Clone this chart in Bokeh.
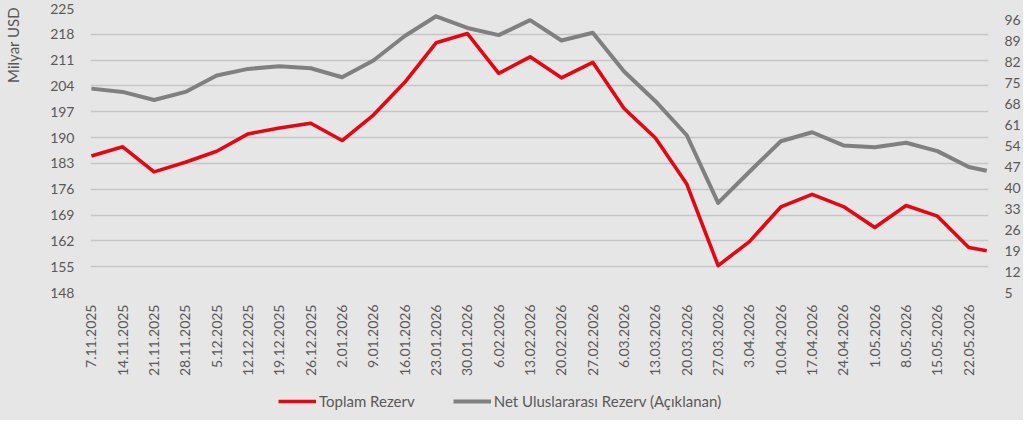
from datetime import datetime
from math import pi

from bokeh.plotting import figure
from bokeh.layouts import column
from bokeh.models import (Range1d, LinearAxis, FixedTicker, Legend, LegendItem,
                          ColumnDataSource)
from bokeh.embed import file_html
from bokeh.resources import INLINE

# ---------------- data ----------------
dates = ["7.11.2025", "14.11.2025", "21.11.2025", "28.11.2025", "5.12.2025",
         "12.12.2025", "19.12.2025", "26.12.2025", "2.01.2026", "9.01.2026",
         "16.01.2026", "23.01.2026", "30.01.2026", "6.02.2026", "13.02.2026",
         "20.02.2026", "27.02.2026", "6.03.2026", "13.03.2026", "20.03.2026",
         "27.03.2026", "3.04.2026", "10.04.2026", "17.04.2026", "24.04.2026",
         "1.05.2026", "8.05.2026", "15.05.2026", "22.05.2026", "26.05.2026"]
tick_labels = dates[:-1]

toplam_rezerv = [185.0, 187.5, 180.7, 183.3, 186.3, 191.0, 192.6, 193.9, 189.2, 196.1,
                 205.0, 215.7, 218.2, 207.4, 211.9, 206.2, 210.4, 197.9, 189.9, 177.4,
                 155.3, 161.8, 171.2, 174.6, 171.3, 165.6, 171.6, 168.7, 160.2, 159.3]
net_rezerv = [73.2, 72.1, 69.4, 72.1, 77.6, 79.8, 80.7, 80.0, 77.0, 82.6,
              90.8, 97.4, 93.5, 91.1, 96.1, 89.3, 91.9, 78.9, 69.0, 57.6,
              35.0, 45.4, 55.6, 58.6, 54.2, 53.6, 55.1, 52.3, 47.0, 45.7]
series_names = ["Toplam Rezerv", "Net Uluslararası Rezerv (Açıklanan)"]
unit_label = "Milyar USD"

left_ticks = list(range(148, 226, 7))
right_ticks = list(range(5, 97, 7))

# ---------------- helpers ----------------
t0 = datetime.strptime(dates[0], "%d.%m.%Y")
def day(s):
    return (datetime.strptime(s, "%d.%m.%Y") - t0).days

xs = [day(d) for d in dates]
tick_x = [day(d) for d in tick_labels]

src = ColumnDataSource(dict(x=xs, toplam=toplam_rezerv, net=net_rezerv))

BG = "#e7e6e6"
TXT = "#595959"
FONT = "Lato"
RED = "#e30613"
GRAY = "#808080"
W = 1023

p = figure(width=W, height=380, output_backend="svg", toolbar_location=None,
           x_range=Range1d(-0.2, xs[-1] + 0.4), y_range=Range1d(148, 225),
           min_border_left=84, min_border_right=33, min_border_top=8,
           min_border_bottom=88)
p.background_fill_color = BG
p.border_fill_color = BG
p.outline_line_color = None

p.extra_y_ranges = {"right": Range1d(5, 100)}

# grid
lt = FixedTicker(ticks=left_ticks)
p.yaxis.ticker = lt
p.ygrid.ticker = lt
p.ygrid.grid_line_color = "#c6c6c6"
p.ygrid.grid_line_width = 1.6
p.xgrid.grid_line_color = None

def style_axis(ax, standoff):
    ax.axis_line_color = None
    ax.major_tick_line_color = None
    ax.minor_tick_line_color = None
    ax.major_tick_out = 0
    ax.major_tick_in = 0
    ax.major_label_standoff = standoff
    ax.major_label_text_font = FONT
    ax.major_label_text_font_size = "14px"
    ax.major_label_text_color = TXT

# left axis
ya = p.yaxis[0]
style_axis(ya, 16)

# unit title near the top of the left side (label-only axis); the label is
# centred on the axis end, so it is padded with non-breaking spaces
ta = LinearAxis(ticker=FixedTicker(ticks=[]),
                axis_label=unit_label + "\u00a0" * 19)
style_axis(ta, 0)
ta.axis_label_align = "end"
ta.axis_label_standoff = 26
ta.axis_label_text_font = FONT
ta.axis_label_text_font_size = "15px"
ta.axis_label_text_font_style = "normal"
ta.axis_label_text_color = TXT
p.add_layout(ta, "left")

# right axis
ra = LinearAxis(y_range_name="right", ticker=FixedTicker(ticks=right_ticks))
style_axis(ra, 16)
p.add_layout(ra, "right")

# x axis
xa = p.xaxis[0]
xa.ticker = FixedTicker(ticks=tick_x)
xa.major_label_overrides = {x: lab for x, lab in zip(tick_x, tick_labels)}
xa.major_label_orientation = pi / 2
style_axis(xa, 12)

# lines
p.line("x", "net", source=src, y_range_name="right", line_color=GRAY,
       line_width=4, line_join="round")
p.line("x", "toplam", source=src, line_color=RED, line_width=3.6,
       line_join="round")

# legend strip (separate figure so nothing is clipped); its lines fall
# outside its ranges, they only serve as legend swatches
lg = figure(width=W, height=40, output_backend="svg", toolbar_location=None,
            x_axis_location=None, y_axis_location=None,
            x_range=Range1d(-1000, -999), y_range=Range1d(-1000, -999),
            min_border_left=84, min_border_right=33, min_border_top=0,
            min_border_bottom=0)
lg.background_fill_color = BG
lg.border_fill_color = BG
lg.outline_line_color = None
lg.xgrid.grid_line_color = None
lg.ygrid.grid_line_color = None
lr_top = lg.line("x", "toplam", source=src, line_color=RED, line_width=3.6)
lr_net = lg.line("x", "net", source=src, line_color=GRAY, line_width=4)
legend = Legend(items=[LegendItem(label=series_names[0], renderers=[lr_top]),
                       LegendItem(label=series_names[1], renderers=[lr_net])],
                location=(188, 10), orientation="horizontal",
                glyph_width=38, glyph_height=14, label_standoff=3, spacing=38,
                padding=0, margin=0, background_fill_alpha=0,
                border_line_color=None, label_text_font=FONT,
                label_text_font_size="15px", label_text_color=TXT)
lg.add_layout(legend)

layout = column(p, lg, spacing=0, styles={"background-color": BG})
open("out.html", "w").write(file_html(layout, INLINE))
